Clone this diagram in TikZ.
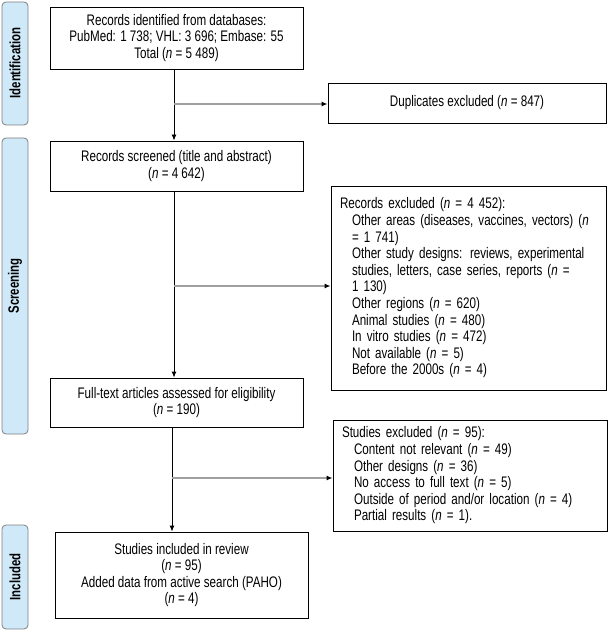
\documentclass[tikz,border=0pt]{standalone}
\usepackage{fontspec}
\setmainfont{Liberation Sans}[FakeStretch=0.76]
\usetikzlibrary{arrows.meta}
\definecolor{tabblue}{RGB}{207,233,249}
\definecolor{linegray}{RGB}{160,160,160}
\newcommand{\nv}{\textit{n}}
\newcommand{\ind}{\hspace*{12pt}}
\begin{document}
\begin{tikzpicture}[x=1pt,y=-1pt,
	box/.style={draw,line width=0.9pt,align=center,inner sep=0pt,font=\fontsize{15.3}{16.6}\selectfont},
	lbox/.style={box,align=left,inner xsep=9pt},
	tab/.style={draw=gray,fill=tabblue,rounded corners=4pt,line width=0.8pt},
	tablabel/.style={rotate=90,font=\fontsize{15}{16}\selectfont\bfseries},
	flow/.style={line width=0.9pt,-{Latex[length=6pt,width=5pt]}},
	side/.style={line width=1.4pt,linegray,-{Latex[length=6pt,width=5pt,black]}}]
	\useasboundingbox (0,0) rectangle (607,631);
	\draw[tab] (2,2) rectangle (28,125);
	\draw[tab] (2,138) rectangle (28,434);
	\draw[tab] (2,525) rectangle (28,629);
	\node[tablabel] (tid) at (15,63) {Identification};
	\node[tablabel] (tsc) at (15,286) {Screening};
	\node[tablabel] (tin) at (15,577) {Included};
	\node[box,minimum width=253pt,minimum height=62pt] (ident) at (176.5,38)
		{Records identified from databases:\\PubMed: 1 738; VHL: 3 696; Embase: 55\\Total (\nv{} = 5 489)};
	\node[box,minimum width=278pt,minimum height=40pt] (dup) at (467,103)
		{Duplicates excluded (\nv{} = 847)};
	\node[box,minimum width=253pt,minimum height=50pt] (screen) at (176.5,166)
		{Records screened (title and abstract)\\(\nv{} = 4 642)};
	\node[lbox,text width=257pt,minimum height=204pt] (recex) at (468.5,288)
		{Records excluded (\nv{} = 4 452):\\
		\ind Other areas (diseases, vaccines, vectors) (\nv\\
		\ind = 1 741)\\
		\ind Other study designs: reviews, experimental\\
		\ind studies, letters, case series, reports (\nv{} =\\
		\ind 1 130)\\
		\ind Other regions (\nv{} = 620)\\
		\ind Animal studies (\nv{} = 480)\\
		\ind In vitro studies (\nv{} = 472)\\
		\ind Not available (\nv{} = 5)\\
		\ind Before the 2000s (\nv{} = 4)};
	\node[box,minimum width=253pt,minimum height=49pt] (full) at (176.5,402.5)
		{Full-text articles assessed for eligibility\\(\nv{} = 190)};
	\node[lbox,text width=256pt,minimum height=111pt] (stex) at (470,475.5)
		{Studies excluded (\nv{} = 95):\\
		\ind Content not relevant (\nv{} = 49)\\
		\ind Other designs (\nv{} = 36)\\
		\ind No access to full text (\nv{} = 5)\\
		\ind Outside of period and/or location (\nv{} = 4)\\
		\ind Partial results (\nv{} = 1).};
	\node[box,minimum width=253pt,minimum height=86pt] (incl) at (181.5,575)
		{Studies included in review\\(\nv{} = 95)\\Added data from active search (PAHO)\\(\nv{} = 4)};
	\coordinate (b1) at (174,104);
	\coordinate (b2) at (174,286);
	\coordinate (b3) at (172,478);
	\draw[flow] (ident.south -| b1) -- (screen.north -| b1);
	\draw[flow] (screen.south -| b2) -- (full.north -| b2);
	\draw[flow] (full.south -| b3) -- (incl.north -| b3);
	\draw[side] (b1) -- (dup.west |- b1);
	\draw[side] (b2) -- (recex.west |- b2);
	\draw[side] (b3) -- (stex.west |- b3);
\end{tikzpicture}
\end{document}
